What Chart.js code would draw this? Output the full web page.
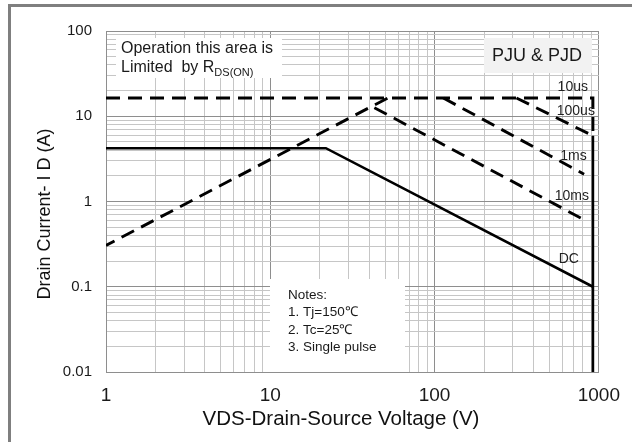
<!DOCTYPE html>
<html><head><meta charset="utf-8">
<script src="https://cdn.jsdelivr.net/npm/chart.js@4/dist/chart.umd.min.js"></script>
<style>html,body{margin:0;padding:0;background:#fff;}canvas{display:block;}</style>
</head><body>
<canvas id="c" width="632" height="442"></canvas>
<script>
// ---- data (voltage V, current A) ----
const dcV = [1, 21.8, 920];
const dcI = [4.22, 4.22, 0.1];
const rdsV = [1, 52];
const rdsI = [0.305, 16.4];
const us10V = [1, 920, 920];
const us10I = [16.4, 16.4, 5.9];
const us100V = [315, 920];
const us100I = [16.4, 5.9];
const ms1V = [113, 813];
const ms1I = [16.4, 2.09];
const ms10V = [43, 800];
const ms10I = [12.6, 0.62];
const vdssV = [920, 920];
const vdssI = [5.9, 0.01];

const xMajorTicks = [1, 10, 100, 1000];
const yMajorTicks = [0.01, 0.1, 1, 10, 100];
const seriesLabels = ['10us', '100us', '1ms', '10ms', 'DC'];
const seriesLabelV = [694, 724, 700, 684, 656];
const seriesLabelI = [22.2, 11.6, 3.36, 1.17, 0.21];

function withMinors(majors) {
  const out = [];
  for (let i = 0; i < majors.length - 1; i++) {
    for (let m = 1; m <= 9; m++) out.push(+(majors[i] * m).toPrecision(6));
  }
  out.push(majors[majors.length - 1]);
  return out;
}
const xTickVals = withMinors(xMajorTicks);
const yTickVals = withMinors(yMajorTicks);
const isMajor = v => Math.abs(Math.log10(v) - Math.round(Math.log10(v))) < 1e-9;

const pts = (vs, is) => vs.map((v, k) => ({x: v, y: is[k]}));
const FONT = '"Liberation Sans", Arial, sans-serif';
const MAJ = '#8e8e8e', MIN = '#c6c6c6';

const solid = {borderColor: '#000', borderWidth: 2.6, pointRadius: 0, showLine: true, fill: false, tension: 0};
const dashed = Object.assign({}, solid, {borderDash: [14, 8], borderWidth: 2.9});

const deco = {
  id: 'deco',
  beforeDraw(chart) {
    const c = chart.ctx;
    c.save();
    c.fillStyle = '#fff';
    c.fillRect(0, 0, chart.width, chart.height);
    c.fillStyle = '#7f7f7f';
    c.fillRect(8, 4, chart.width - 8, 3);
    c.fillRect(8, 4, 3, chart.height - 4);
    c.restore();
  },
  beforeDatasetsDraw(chart) {
    const c = chart.ctx, a = chart.chartArea;
    c.save();
    c.fillStyle = '#fff';
    c.fillRect(a.left + 10, a.top + 7, 166, 40);
    c.fillRect(a.left + 164, a.top + 248, 135, a.bottom - a.top - 248);
    c.fillStyle = '#f2f2f2';
    c.fillRect(a.left + 378, a.top + 7, 108, 35);
    c.restore();
  },
  afterDatasetsDraw(chart) {
    const c = chart.ctx, a = chart.chartArea;
    const xs = chart.scales.x, ys = chart.scales.y;
    c.save();
    c.fillStyle = '#1a1a1a';
    c.textBaseline = 'middle';
    c.textAlign = 'left';
    c.font = '16px ' + FONT;
    c.fillText('Operation this area is', a.left + 15, a.top + 18);
    const t2 = 'Limited  by R';
    c.fillText(t2, a.left + 15, a.top + 37);
    const w2 = c.measureText(t2).width;
    c.font = '11px ' + FONT;
    c.fillText('DS(ON)', a.left + 15 + w2, a.top + 42);

    c.font = '18px ' + FONT;
    c.textAlign = 'center';
    c.fillText('PJU & PJD', a.left + 431, a.top + 25);

    c.font = '13.5px ' + FONT;
    c.textAlign = 'left';
    const notes = ['Notes:', '1. Tj=150\u2103', '2. Tc=25\u2103', '3. Single pulse'];
    notes.forEach((t, k) => c.fillText(t, a.left + 182, a.top + 264 + k * 17.4));

    c.font = '14px ' + FONT;
    c.textAlign = 'center';
    c.fillStyle = '#222';
    seriesLabels.forEach((t, k) => {
      c.fillText(t, xs.getPixelForValue(seriesLabelV[k]), ys.getPixelForValue(seriesLabelI[k]));
    });

    c.fillStyle = '#111';
    c.font = '20.5px ' + FONT;
    c.fillText('VDS-Drain-Source Voltage (V)', 341, 419);

    c.font = '18px ' + FONT;
    c.translate(45, 214);
    c.rotate(-Math.PI / 2);
    c.fillText('Drain Current- I D (A)', 0, 0);
    c.restore();
  }
};

new Chart(document.getElementById('c'), {
  type: 'scatter',
  data: {
    datasets: [
      Object.assign({label: 'DC', data: pts(dcV, dcI)}, solid),
      Object.assign({label: 'VDSS', data: pts(vdssV, vdssI)}, solid),
      Object.assign({label: 'RDS(ON)', data: pts(rdsV, rdsI)}, dashed, {borderDashOffset: 4.4}),
      Object.assign({label: '10us', data: pts(us10V, us10I)}, dashed),
      Object.assign({label: '100us', data: pts(us100V, us100I)}, dashed),
      Object.assign({label: '1ms', data: pts(ms1V, ms1I)}, dashed),
      Object.assign({label: '10ms', data: pts(ms10V, ms10I)}, dashed)
    ]
  },
  options: {
    responsive: false,
    animation: false,
    devicePixelRatio: 1,
    layout: {padding: {left: 12, top: 31, right: 33, bottom: 0}},
    plugins: {legend: {display: false}, tooltip: {enabled: false}},
    scales: {
      x: {
        type: 'logarithmic', min: 1, max: 1000,
        afterBuildTicks: s => { s.ticks = xTickVals.map(v => ({value: v, major: isMajor(v)})); },
        afterFit: s => { s.height = 70; },
        ticks: {autoSkip: false, maxRotation: 0, padding: 12, color: '#1a1a1a',
          font: {family: FONT, size: 19},
          callback: v => isMajor(v) ? String(v) : ''},
        grid: {drawTicks: false, lineWidth: 1, color: ctx => (ctx.tick && isMajor(ctx.tick.value)) ? MAJ : MIN},
        border: {display: true, color: MAJ},
        title: {display: false}
      },
      y: {
        type: 'logarithmic', min: 0.01, max: 100,
        afterBuildTicks: s => { s.ticks = yTickVals.map(v => ({value: v, major: isMajor(v)})); },
        afterFit: s => { s.width = 94; },
        ticks: {autoSkip: false, padding: 14, color: '#1a1a1a',
          font: {family: FONT, size: 15},
          callback: v => isMajor(v) ? String(v) : ''},
        grid: {drawTicks: false, lineWidth: 1, color: ctx => (ctx.tick && isMajor(ctx.tick.value)) ? MAJ : MIN},
        border: {display: true, color: MAJ},
        title: {display: false}
      }
    }
  },
  plugins: [deco]
});
</script>
</body></html>
